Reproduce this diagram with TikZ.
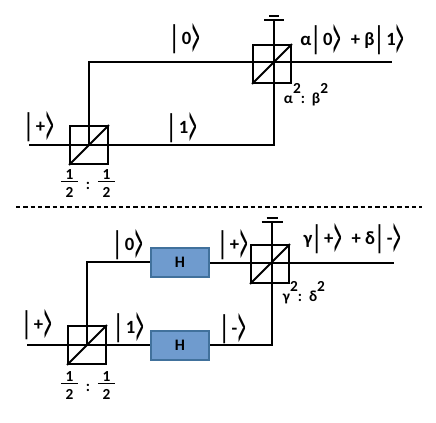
\documentclass[tikz,border=0pt]{standalone}
\usepackage{amsmath}
\usepackage{graphicx}
\usepackage{fontspec}
\setmainfont{Carlito}
\usepackage{tikz}
\definecolor{hblue}{HTML}{6F9BCE}
\definecolor{hedge}{HTML}{41719C}
\newcommand{\kt}[1]{\raisebox{-0.2em}{\scalebox{1}[1.75]{\textbf{|}}}\hspace{0.16em}\textbf{#1}\raisebox{-0.85em}{\scalebox{0.95}[3.8]{\mdseries >}}}
\newcommand{\half}{\begin{tabular}{@{}c@{}}1\\[-11pt]\rule{13pt}{1.2pt}\\[-2pt]2\end{tabular}}
\newcommand{\sqd}{\raisebox{0.66em}{2}}
\begin{document}
\begin{tikzpicture}[x=0.75pt,y=-0.75pt,line width=1.4pt,every node/.style={font=\bfseries\fontsize{14}{16}\selectfont,inner sep=0pt},
    bsplit/.style={draw,minimum width=28.5pt,minimum height=28.5pt},
    hgate/.style={draw=hedge,fill=hblue,minimum width=44pt,minimum height=21.5pt},
    small/.style={font=\bfseries\fontsize{11.5}{13}\selectfont},
    gatetext/.style={font=\bfseries\fontsize{12}{14}\selectfont}]
  \useasboundingbox (0,0) rectangle (436,422);
  % ---- TOP circuit ----
  \node[bsplit] (bsA) at (89,145) {};
  \node[bsplit] (bsB) at (272,64) {};
  \coordinate (inA) at (29,145);
  \coordinate (cornA) at (89,62);
  \coordinate (cornB) at (274,145);
  \coordinate (outB) at (392,62);
  \coordinate (detB) at (274,20);
  \draw (inA)--(cornB)--(detB);
  \draw (bsA.center)--(cornA)--(outB);
  \draw (bsA.south west)--(bsA.north east);
  \draw (bsB.south west)--(bsB.north east);
  \draw (detB)++(-10,0)--++(20,0);
  \draw (detB)++(-5,-4)--++(10,0);
  \node (kA0) at (185,42) {\kt{0}};
  \node (kA1) at (182,131) {\kt{1}};
  \node (kAp) at (39,130) {\kt{+}};
  \node (kAout) at (352.5,43) {α\kt{0}\hspace{0.5em}+ β\kt{1}};
  \node[small] (rA) at (88,185) {\half\hspace{0.5em}:\hspace{0.5em}\half};
  \node[small] (rB) at (306,95) {α\sqd:\hspace{0.45em}β\sqd};
  % ---- divider ----
  \coordinate (divL) at (16,207);
  \coordinate (divR) at (422,207);
  \draw[dash pattern=on 3.3pt off 2.2pt] (divL)--(divR);
  % ---- BOTTOM circuit ----
  \node[bsplit] (bsC) at (87,345) {};
  \node[bsplit] (bsD) at (270,264) {};
  \node[hgate,gatetext] (hT) at (180,262.5) {H};
  \node[hgate,gatetext] (hL) at (180,345.5) {H};
  \coordinate (inC) at (27,345);
  \coordinate (cornC) at (87,262);
  \coordinate (cornD) at (272,345);
  \coordinate (outD) at (394,263);
  \coordinate (detD) at (272,222);
  \draw (inC)--(hL.west |- inC);
  \draw (hL.east |- cornD)--(cornD)--(detD);
  \draw (bsC.center)--(cornC)--(hT.west |- cornC);
  \draw (hT.east |- outD)--(outD);
  \draw (bsC.south west)--(bsC.north east);
  \draw (bsD.south west)--(bsD.north east);
  \draw (detD)++(-10.5,0)--++(21,0);
  \draw (detD)++(-5.5,-4)--++(11,0);
  \node (kC0) at (128,248) {\kt{0}};
  \node (kC1) at (129,331) {\kt{1}};
  \node (kCp) at (37,328) {\kt{+}};
  \node (kDp) at (233,248) {\kt{+}};
  \node (kDm) at (233,332) {\kt{-}};
  \node (kDout) at (352.5,242) {γ\kt{+}\hspace{0.5em}+ δ\kt{-}};
  \node[small] (rC) at (88,387) {\half\hspace{0.5em}:\hspace{0.5em}\half};
  \node[small] (rD) at (304,293) {γ\sqd:\hspace{0.45em}δ\sqd};
\end{tikzpicture}
\end{document}
